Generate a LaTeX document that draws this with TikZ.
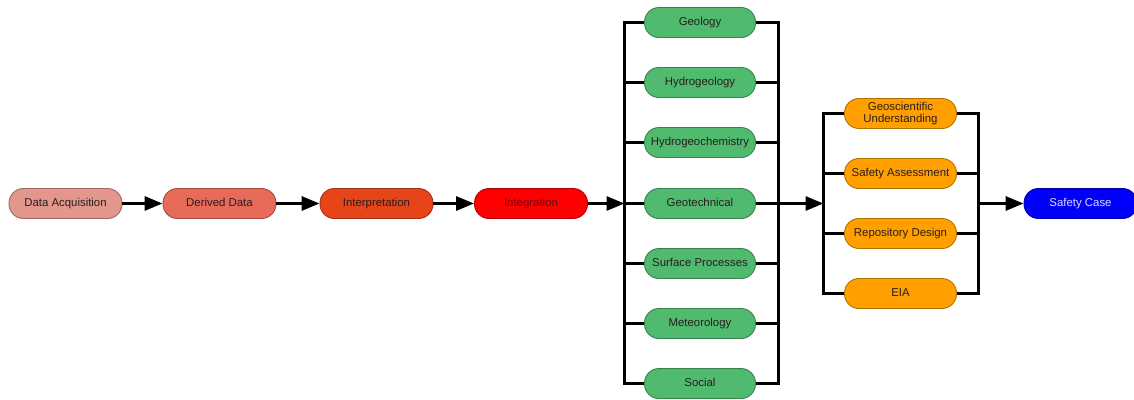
\documentclass[tikz,border=0pt]{standalone}
\usepackage{fontspec}
\setmainfont{Liberation Sans}
\usetikzlibrary{arrows.meta,calc}

\definecolor{cAcq}{RGB}{226,150,140}
\definecolor{cDer}{RGB}{232,106,88}
\definecolor{cInt}{RGB}{232,68,26}
\definecolor{cIng}{RGB}{255,0,0}
\definecolor{cGrn}{RGB}{80,186,110}
\definecolor{cOrg}{RGB}{255,160,0}
\definecolor{cBlu}{RGB}{0,0,250}
\definecolor{txt}{RGB}{40,30,30}

\tikzset{
  pill/.style={draw=#1!70!black, fill=#1, line width=0.9pt, rounded corners=14.5pt,
    minimum width=113pt, minimum height=30pt, inner sep=0pt, align=center,
    text height=7.8pt, text depth=2.6pt,
    font=\fontsize{11.4}{12.5}\selectfont, text=txt},
  greenbox/.style={pill=cGrn, minimum width=111pt},
  orangebox/.style={pill=cOrg, minimum width=112pt},
  link/.style={line width=3pt, line join=miter},
  arrow/.style={link, -{Triangle[length=18pt,width=14pt]}},
}

\begin{document}
\begin{tikzpicture}[x=1pt,y=-1pt]
\useasboundingbox (0,0) rectangle (1134,399);
\begin{scope}
\clip (0,0) rectangle (1134,399);

% main chain
\node[pill=cAcq] (acq) at (65.5,203.5) {Data Acquisition};
\node[pill=cDer] (der) at (219.5,203.5) {Derived Data};
\node[pill=cInt] (interp) at (376.5,203.5) {Interpretation};
\node[pill=cIng, text={rgb,255:red,120;green,0;blue,0}] (integ) at (531,203.5) {Integration};

% discipline column
\node[greenbox] (geol) at (700,22.5) {Geology};
\node[greenbox] (hydro) at (700,82.5) {Hydrogeology};
\node[greenbox] (hchem) at (700,142.5) {Hydrogeochemistry};
\node[greenbox] (gtech) at (700,203.5) {Geotechnical};
\node[greenbox] (surf) at (700,263.5) {Surface Processes};
\node[greenbox] (met) at (700,323.5) {Meteorology};
\node[greenbox] (soc) at (700,383.5) {Social};

% outcome column
\node[orangebox, text height=, text depth=] (geosci) at (900.5,113.5) {Geoscientific\\Understanding};
\node[orangebox] (safa) at (900.5,173.5) {Safety Assessment};
\node[orangebox] (repo) at (900.5,233.5) {Repository Design};
\node[orangebox] (eia) at (900.5,293.5) {EIA};

% final node
\node[pill=cBlu, text={rgb,255:red,215;green,220;blue,255}] (case) at (1080.5,203.5) {Safety Case};

% bus coordinates
\coordinate (gL) at (624.5,203.5);
\coordinate (gR) at (778.5,203.5);
\coordinate (oL) at (823.5,203.5);
\coordinate (oR) at (978.5,203.5);

% chain arrows
\draw[arrow] (acq.east) -- (der.west);
\draw[arrow] (der.east) -- (interp.west);
\draw[arrow] (interp.east) -- (integ.west);
\draw[arrow] (integ.east) -- (gL);

% left bus of the discipline column
\draw[link] (geol.west) -| (soc.west -| gL) -- (soc.west);
\foreach \n in {hydro,hchem,gtech,surf,met}
  \draw[link] (\n.west) -- (\n.west -| gL);
% right bus of the discipline column
\draw[link] (geol.east) -| (soc.east -| gR) -- (soc.east);
\foreach \n in {hydro,hchem,gtech,surf,met}
  \draw[link] (\n.east) -- (\n.east -| gR);

\draw[arrow] (gR) -- (oL);

% buses of the outcome column
\draw[link] (geosci.west) -| (eia.west -| oL) -- (eia.west);
\draw[link] (safa.west) -- (safa.west -| oL);
\draw[link] (repo.west) -- (repo.west -| oL);
\draw[link] (geosci.east) -| (eia.east -| oR) -- (eia.east);
\draw[link] (safa.east) -- (safa.east -| oR);
\draw[link] (repo.east) -- (repo.east -| oR);

\draw[arrow] (oR) -- (case.west);
\end{scope}
\end{tikzpicture}
\end{document}
